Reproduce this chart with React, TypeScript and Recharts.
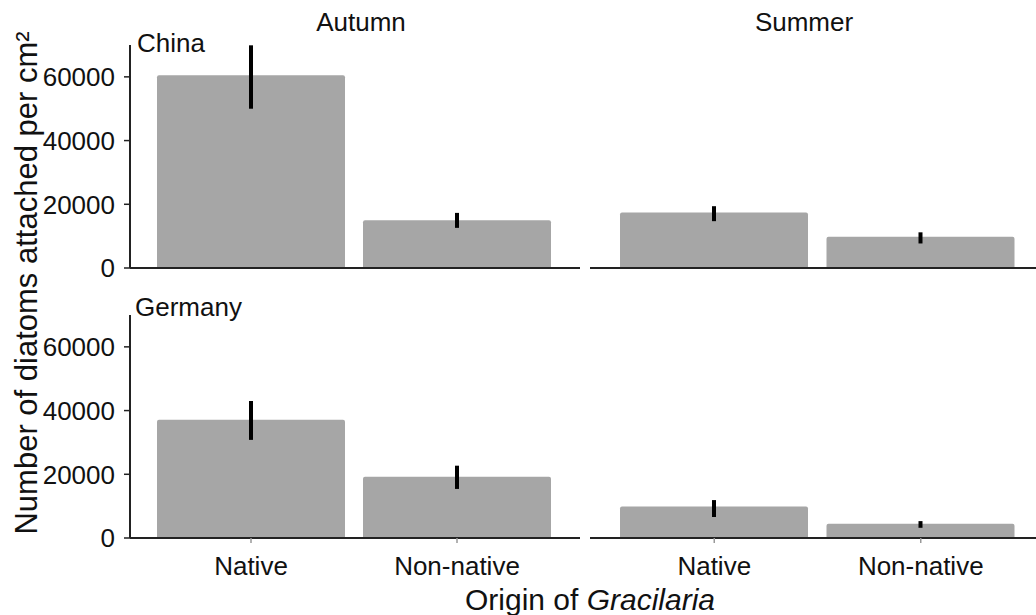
import React from "react";
import { BarChart, Bar, XAxis, YAxis, ErrorBar } from "recharts";

const origins = ["Native", "Non-native"];
const yTicks = [0, 20000, 40000, 60000];

// mean diatoms per cm², [Native, Non-native]
const chinaAutumn = [60500, 15000];
const chinaSummer = [17400, 9800];
const germanyAutumn = [37100, 19200];
const germanySummer = [9900, 4500];

// error bar ends, [Native, Non-native]
const chinaAutumnLow = [50000, 12600];
const chinaAutumnHigh = [69900, 17300];
const chinaSummerLow = [14700, 7700];
const chinaSummerHigh = [19400, 11200];
const germanyAutumnLow = [30800, 15400];
const germanyAutumnHigh = [43000, 22700];
const germanySummerLow = [6600, 3200];
const germanySummerHigh = [11900, 5300];

const FONT = "'Liberation Sans', Arial, sans-serif";
const INK = "#111";

function rows(means: number[], low: number[], high: number[]) {
  return origins.map((o, i) => ({
    origin: o,
    mean: means[i],
    err: [means[i] - low[i], high[i] - means[i]],
  }));
}

type PanelProps = {
  means: number[];
  low: number[];
  high: number[];
  left: number;
  top: number;
  isLeft: boolean;
  isBottom: boolean;
};

function Panel({ means, low, high, left, top, isLeft, isBottom }: PanelProps) {
  const data = rows(means, low, high);
  const width = isLeft ? 580 : 456;
  const xAxisH = isBottom ? 50 : 1;
  const bottomPad = isBottom ? 0 : 13;
  const height = 45 + 223 + xAxisH + bottomPad;
  return (
    <div style={{ position: "absolute", left, top }}>
      <BarChart
        width={width}
        height={height}
        data={data}
        margin={{ top: 45, right: 0, bottom: bottomPad, left: isLeft ? 0 : 10 }}
      >
        <XAxis
          dataKey="origin"
          type="category"
          height={xAxisH}
          padding={isLeft ? { left: 18, right: 20 } : { left: 21, right: 12 }}
          axisLine={{ stroke: "#222", strokeWidth: 2 }}
          tick={isBottom ? { fontSize: 26, fill: INK, fontFamily: FONT } : false}
          tickLine={isBottom ? { stroke: "#999", strokeWidth: 1.5 } : false}
          tickSize={5}
          tickMargin={14}
          interval={0}
        />
        <YAxis
          hide={!isLeft}
          width={130}
          domain={[0, 70000]}
          ticks={yTicks}
          interval={0}
          tickSize={6}
          tickMargin={9}
          axisLine={{ stroke: "#222", strokeWidth: 2 }}
          tickLine={{ stroke: "#222", strokeWidth: 1.5 }}
          tick={{ fontSize: 26, fill: INK, fontFamily: FONT }}
        />
        <Bar dataKey="mean" fill="#a6a6a6" barSize={188} radius={[2, 2, 0, 0]} isAnimationActive={false}>
          <ErrorBar
            dataKey="err"
            direction="y"
            width={0}
            stroke="#000"
            strokeWidth={4}
            isAnimationActive={false}
          />
        </Bar>
      </BarChart>
    </div>
  );
}

export default function App() {
  return (
    <div
      style={{
        position: "absolute",
        left: 0,
        top: 0,
        width: 1036,
        height: 615,
        background: "#fff",
        fontFamily: FONT,
        overflow: "hidden",
      }}
    >
      <Panel means={chinaAutumn} low={chinaAutumnLow} high={chinaAutumnHigh} left={0} top={0} isLeft isBottom={false} />
      <Panel means={chinaSummer} low={chinaSummerLow} high={chinaSummerHigh} left={580} top={0} isLeft={false} isBottom={false} />
      <Panel means={germanyAutumn} low={germanyAutumnLow} high={germanyAutumnHigh} left={0} top={270} isLeft isBottom />
      <Panel means={germanySummer} low={germanySummerLow} high={germanySummerHigh} left={580} top={270} isLeft={false} isBottom />
      <svg
        width={1036}
        height={615}
        style={{ position: "absolute", left: 0, top: 0, pointerEvents: "none" }}
        fontFamily={FONT}
        fill={INK}
      >
        <text x={361} y={31} fontSize={26} textAnchor="middle">Autumn</text>
        <text x={804} y={31} fontSize={26} textAnchor="middle">Summer</text>
        <text x={137} y={52} fontSize={26}>China</text>
        <text x={135} y={316} fontSize={26}>Germany</text>
        <text x={37} y={283} fontSize={31} textAnchor="middle" transform="rotate(-90 37 283)">
          Number of diatoms attached per cm²
        </text>
        <text x={590} y={610} fontSize={30} textAnchor="middle">
          Origin of <tspan fontStyle="italic">Gracilaria</tspan>
        </text>
      </svg>
    </div>
  );
}
